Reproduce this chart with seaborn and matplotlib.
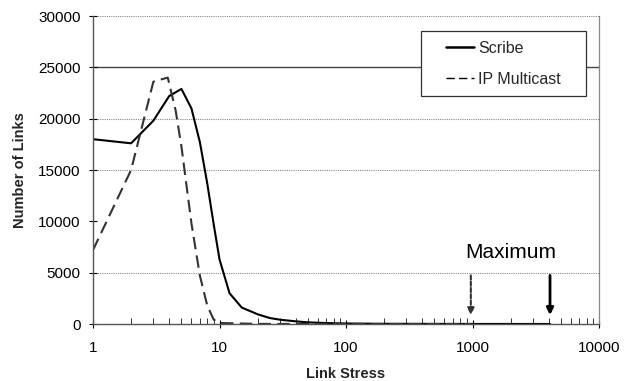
import matplotlib
matplotlib.use("Agg")
import matplotlib.pyplot as plt
from matplotlib.patches import Rectangle
import seaborn as sns
import pandas as pd
import numpy as np
from matplotlib.ticker import LogLocator, FixedLocator, NullFormatter

# ---- data ----
scribe_x = [1, 2, 3, 4, 5, 6, 7, 8, 9, 10, 12, 15, 20, 25, 30, 40, 50, 70, 100, 200, 500, 1000, 2000, 4100]
scribe_y = [18000, 17600, 19800, 22200, 22900, 21000, 17700, 13700, 9700, 6300, 3000, 1600, 950, 580, 420, 260, 160, 90, 50, 20, 10, 5, 3, 2]
ip_x = [1, 2, 3, 3.4, 3.9, 4.5, 5, 6, 7, 8, 9, 10, 20, 50, 100, 500, 970]
ip_y = [7200, 15000, 23600, 23800, 24000, 20800, 17300, 9800, 4700, 1800, 420, 100, 10, 3, 1, 0, 0]
series_names = ["Scribe", "IP Multicast"]
y_ticks = [0, 5000, 10000, 15000, 20000, 25000, 30000]
x_ticks = [1, 10, 100, 1000, 10000]
x_tick_labels = ["1", "10", "100", "1000", "10000"]
dotted_grid = [5000, 15000, 20000, 30000]
solid_grid = [25000]
arrow_x = [970, 4100]

df = pd.concat([
    pd.DataFrame({"Link Stress": scribe_x, "Number of Links": scribe_y, "series": series_names[0]}),
    pd.DataFrame({"Link Stress": ip_x, "Number of Links": ip_y, "series": series_names[1]}),
], ignore_index=True)

sns.set_theme(style="white")
plt.rcParams["font.family"] = ["Liberation Sans", "DejaVu Sans"]

fig = plt.figure(figsize=(6.26, 3.81), dpi=100)
ax = fig.add_axes([93/626, 1-324/381, (599-93)/626, (324-16)/381])

for y in dotted_grid:
    ax.axhline(y, color="#888888", lw=0.8, ls=(0, (1, 1)), zorder=0)
for y in solid_grid:
    ax.axhline(y, color="#444444", lw=1.0, ls="-", zorder=0)

sns.lineplot(data=df, x="Link Stress", y="Number of Links", hue="series", style="series",
             palette={series_names[0]: "black", series_names[1]: "#333333"},
             dashes={series_names[0]: "", series_names[1]: (6, 3)},
             sort=False, ax=ax, legend=True)
data_lines = ax.get_lines()[-2:]
data_lines[0].set_linewidth(1.8)
data_lines[1].set_linewidth(1.0)

ax.set_xscale("log")
ax.set_xlim(1, 10000)
ax.set_ylim(0, 30000)
ax.xaxis.set_major_locator(FixedLocator(x_ticks))
ax.set_xticklabels(x_tick_labels)
ax.xaxis.set_minor_locator(LogLocator(base=10, subs=np.arange(2, 10)))
ax.xaxis.set_minor_formatter(NullFormatter())
ax.set_yticks(y_ticks)
ax.set_yticklabels([str(v) for v in y_ticks])

ax.tick_params(axis="both", which="major", labelsize=11, colors="black", direction="inout",
               length=6, width=0.8, pad=6)
ax.tick_params(axis="x", which="minor", direction="in", length=4, width=0.7, bottom=True, color="#333333")
ax.tick_params(axis="x", which="major", pad=9, bottom=True)
ax.tick_params(axis="y", which="major", left=True)

ax.set_xlabel("Link Stress", fontsize=10.5, fontweight="bold", labelpad=9)
ax.set_ylabel("Number of Links", fontsize=10.5, fontweight="bold", labelpad=8)

for s in ["left", "bottom"]:
    ax.spines[s].set_color("#555555")
    ax.spines[s].set_linewidth(1.0)
ax.spines["top"].set_visible(False)
ax.spines["right"].set_color("#888888")
ax.spines["right"].set_linestyle((0, (2, 1)))
ax.spines["right"].set_linewidth(0.9)

# annotation arrows
ax.annotate("", xy=(arrow_x[0], 600), xytext=(arrow_x[0], 5000),
            arrowprops=dict(arrowstyle="-|>", color="#333333", lw=1.5, ls=(0, (2, 1)), mutation_scale=10))
ax.annotate("", xy=(arrow_x[1], 600), xytext=(arrow_x[1], 5000),
            arrowprops=dict(arrowstyle="-|>", color="black", lw=2.0, mutation_scale=10))
ax.text(2000, 6000, "Maximum", fontsize=15, ha="center", va="bottom", color="black")

# legend box (frame drawn separately to match the wide padding)
box = Rectangle((421/626, 1-96/381), 165/626, 65/381, transform=fig.transFigure,
                facecolor="white", edgecolor="#333333", lw=0.9, zorder=4.5)
ax.add_artist(box)
box.set_clip_on(False)

handles, labels = ax.get_legend_handles_labels()
leg = ax.legend(handles, labels, loc="upper left", bbox_to_anchor=(446/626, 1-41/381),
                bbox_transform=fig.transFigure, fontsize=11.5, frameon=False,
                handlelength=1.75, handletextpad=0.25,
                borderpad=0, labelspacing=1.0, borderaxespad=0)
leg.set_zorder(5)
for h in leg.get_lines():
    h.set_color("black")
leg.get_lines()[0].set_linewidth(1.8)
leg.get_lines()[1].set_linewidth(1.0)

fig.savefig("out.png", dpi=100)
